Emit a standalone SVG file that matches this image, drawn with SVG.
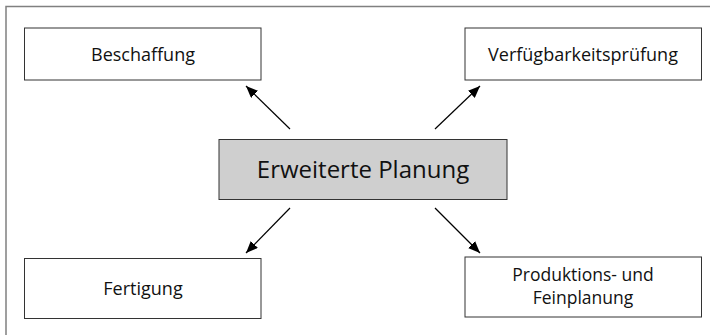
<svg xmlns="http://www.w3.org/2000/svg" width="710" height="335" viewBox="0 0 710 335">
<defs>
<style>
.frame{fill:none;stroke:#808080;stroke-width:1.5}
.box{fill:#fff;stroke:#333;stroke-width:1}
.main{fill:#cfcfcf;stroke:#333;stroke-width:1}
.lbl{font-family:"Open Sans","Noto Sans",sans-serif;font-size:18px;fill:#111;text-anchor:middle}
.sm{font-size:17.5px}
.big{font-family:"Open Sans","Noto Sans",sans-serif;font-size:24px;fill:#111;text-anchor:middle}
.con{stroke:#000;stroke-width:1.2;fill:none;marker-end:url(#ah)}
</style>
<marker id="ah" markerWidth="12" markerHeight="10" refX="12" refY="5" orient="auto" markerUnits="userSpaceOnUse">
<path d="M0,0 L12,5 L0,10 Z" fill="#000"/>
</marker>
</defs>
<rect width="710" height="335" fill="#fff"/>
<path class="frame" d="M6,340 V6.5 H715"/>
<g id="connectors">
<line class="con" x1="290" y1="129" x2="246" y2="86"/>
<line class="con" x1="435" y1="129" x2="480" y2="86"/>
<line class="con" x1="290" y1="208" x2="246" y2="253"/>
<line class="con" x1="435" y1="208" x2="480" y2="253"/>
</g>
<g id="beschaffung">
<rect class="box" x="24.5" y="28" width="236.5" height="52"/>
<text class="lbl" x="143" y="61">Beschaffung</text>
</g>
<g id="verfuegbarkeitspruefung">
<rect class="box" x="465" y="28" width="236.5" height="52"/>
<text class="lbl" x="583" y="61">Verfügbarkeitsprüfung</text>
</g>
<g id="erweiterte-planung">
<rect class="main" x="219" y="139.5" width="288" height="60"/>
<text class="big" x="363" y="178">Erweiterte Planung</text>
</g>
<g id="fertigung">
<rect class="box" x="24.5" y="258.5" width="236.5" height="60"/>
<text class="lbl" x="143" y="295">Fertigung</text>
</g>
<g id="produktions-feinplanung">
<rect class="box" x="465" y="257" width="236.5" height="60"/>
<text class="lbl sm" x="583" y="281">Produktions- und</text>
<text class="lbl sm" x="583" y="304">Feinplanung</text>
</g>
</svg>
